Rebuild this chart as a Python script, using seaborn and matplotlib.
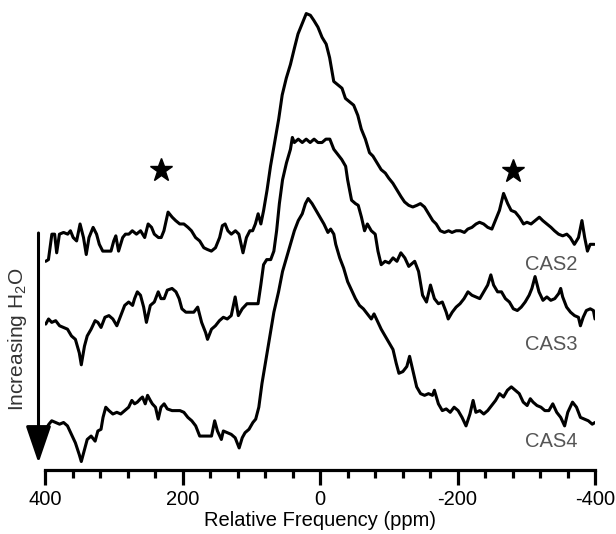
import numpy as np
import pandas as pd
import matplotlib
matplotlib.use("Agg")
import matplotlib.pyplot as plt
import seaborn as sns

# ---------------- data ----------------
cas2_ppm = [399, 395, 390, 386, 383, 379, 373, 367, 363, 359, 354, 349, 344, 340, 336, 330, 325, 321, 316, 310,
            304, 300, 297, 293, 287, 283, 278, 273, 267, 261, 255, 250, 245, 241, 235, 231, 227, 221, 215, 210,
            204, 198, 192, 187, 181, 175, 169, 164, 158, 152, 146, 142, 138, 134, 129, 123, 118, 112, 107, 102,
            98, 94, 90, 86, 82, 77, 72, 66, 60, 55, 49, 43, 37, 32, 26, 20, 14, 9, 3, -3,
            -9, -14, -20, -26, -32, -37, -43, -49, -55, -60, -66, -72, -77, -83, -89, -95, -100, -106, -112, -118,
            -123, -129, -135, -141, -146, -152, -158, -164, -169, -175, -181, -187, -192, -198, -204, -210, -215, -221, -227, -232,
            -238, -244, -250, -255, -261, -267, -273, -278, -284, -290, -296, -301, -307, -313, -319, -324, -330, -336, -341, -347,
            -353, -359, -364, -370, -376, -381, -385, -389, -393, -399]
cas2_int = [63.0, 63.5, 71.0, 71.0, 65.5, 71.0, 71.5, 71.0, 72.0, 70.0, 69.0, 74.0, 70.0, 65.0, 70.0, 73.0, 71.0, 68.0, 66.0, 66.0,
            66.0, 69.0, 70.5, 66.0, 70.0, 71.0, 71.0, 72.0, 71.0, 72.0, 70.0, 74.0, 73.0, 71.0, 70.0, 70.0, 72.0, 77.5, 76.0, 75.0,
            74.0, 74.0, 73.0, 72.0, 70.0, 69.0, 67.0, 66.5, 66.0, 67.0, 70.0, 73.5, 74.0, 72.0, 71.0, 72.0, 71.0, 65.5, 70.0, 72.0,
            72.0, 74.0, 77.0, 74.0, 78.0, 84.0, 91.0, 98.0, 105.0, 112.0, 117.0, 121.0, 126.0, 130.0, 133.0, 136.0, 135.5, 134.0, 132.0, 129.0,
            127.0, 123.0, 116.0, 115.0, 114.0, 111.0, 110.0, 109.0, 106.0, 102.0, 99.0, 95.0, 94.0, 92.0, 90.0, 89.0, 87.5, 86.0, 84.0, 82.0,
            80.5, 79.5, 79.0, 79.5, 80.0, 79.0, 77.0, 75.0, 74.0, 72.0, 71.5, 72.0, 71.5, 72.0, 72.0, 71.5, 72.5, 73.0, 74.0, 74.5,
            74.0, 73.0, 72.5, 75.0, 78.0, 83.0, 80.0, 78.0, 77.5, 76.0, 74.0, 74.5, 74.0, 75.0, 76.0, 75.0, 74.0, 73.0, 72.0, 71.0,
            70.5, 71.0, 70.0, 68.0, 70.0, 75.0, 70.0, 66.0, 68.0, 68.0]

cas3_ppm = [398.9, 394.8, 390.2, 384.5, 378.8, 373.0, 367.3, 361.5, 355.8, 350.1, 347.2, 342.6, 338.6, 332.9, 327.1, 323.1, 318.5, 312.8, 307.0, 301.3,
            295.5, 289.8, 284.1, 278.3, 272.6, 269.7, 265.7, 261.1, 256.5, 252.5, 246.8, 241.0, 235.3, 231.3, 226.7, 222.1, 215.2, 209.5, 204.9, 200.9,
            195.1, 189.4, 183.6, 177.9, 172.2, 166.4, 163.6, 157.8, 152.1, 146.3, 140.6, 134.9, 129.1, 123.4, 118.8, 113.1, 106.2, 100.4, 94.7, 90.1,
            86.1, 82.1, 77.5, 71.7, 67.1, 63.1, 59.1, 54.5, 48.8, 43.0, 40.2, 37.3, 31.6, 25.8, 20.1, 14.3, 8.6, 2.9, -2.9, -8.6,
            -14.3, -20.1, -25.8, -31.6, -37.3, -40.2, -45.9, -51.6, -55.6, -60.3, -64.8, -68.9, -74.6, -80.3, -84.3, -89.0, -94.7, -100.4, -106.2, -111.9,
            -117.6, -123.4, -129.1, -134.9, -137.7, -143.4, -149.2, -154.9, -160.7, -166.4, -172.2, -177.9, -183.6, -186.5, -192.3, -198.0, -203.7, -209.5, -215.2, -221.0,
            -226.7, -232.4, -238.2, -243.9, -248.5, -252.5, -258.3, -264.0, -269.7, -275.5, -281.2, -287.0, -292.7, -298.4, -304.2, -308.2, -312.8, -318.5, -324.3, -330.0,
            -335.7, -341.5, -347.2, -350.1, -353.0, -358.7, -364.4, -370.2, -375.9, -378.8, -382.8, -387.4, -393.1, -397.7, -400.0]
cas3_int = [44.5, 46.0, 45.0, 45.5, 44.0, 43.5, 43.0, 41.0, 40.0, 36.0, 32.5, 38.0, 41.0, 43.0, 45.5, 45.0, 43.5, 46.5, 47.0, 46.0,
            44.0, 47.0, 50.0, 51.0, 50.0, 52.0, 54.0, 53.0, 49.5, 45.0, 50.0, 51.0, 54.0, 52.0, 52.0, 54.5, 55.0, 54.0, 52.0, 49.0,
            48.0, 48.0, 48.0, 49.5, 45.0, 42.0, 40.0, 43.0, 44.0, 45.5, 46.5, 46.0, 47.0, 52.5, 47.0, 49.0, 50.5, 50.5, 50.5, 50.5,
            56.0, 62.0, 63.5, 63.5, 66.0, 72.0, 80.0, 87.0, 92.0, 96.0, 99.5, 98.0, 99.0, 98.0, 99.0, 98.0, 99.0, 98.0, 98.0, 99.0,
            99.0, 96.0, 94.5, 93.0, 91.0, 87.0, 81.0, 80.0, 79.5, 76.0, 72.0, 74.0, 72.0, 71.0, 66.0, 62.0, 63.0, 62.5, 64.0, 63.0,
            65.5, 64.0, 61.5, 62.5, 63.0, 60.0, 53.0, 51.0, 56.0, 52.0, 50.5, 51.0, 48.0, 46.0, 48.0, 49.5, 50.5, 52.0, 54.0, 53.0,
            52.5, 52.0, 54.0, 56.0, 59.0, 56.0, 54.0, 54.0, 52.0, 51.0, 49.0, 48.5, 49.5, 51.0, 53.0, 55.0, 58.5, 54.0, 51.5, 52.5,
            51.5, 52.0, 53.5, 55.0, 52.5, 49.5, 48.0, 47.0, 46.5, 44.0, 46.5, 48.5, 49.0, 48.5, 46.0]

cas4_ppm = [398.9, 394.3, 390.2, 384.5, 378.8, 373.0, 367.3, 361.5, 355.8, 350.1, 347.2, 342.6, 338.6, 332.9, 327.1, 323.1, 318.5, 315.6, 311.6, 307.0,
            301.3, 295.5, 289.8, 284.1, 278.3, 273.7, 269.7, 265.7, 261.1, 258.2, 254.2, 250.8, 246.8, 243.9, 239.3, 235.3, 231.3, 226.7, 222.1, 215.2,
            209.5, 203.7, 198.0, 192.2, 186.5, 180.8, 175.0, 169.3, 163.6, 157.8, 153.2, 149.2, 143.5, 140.6, 134.9, 129.1, 123.4, 117.6, 113.1, 109.0,
            103.3, 97.6, 93.5, 89.0, 84.4, 78.6, 72.9, 67.1, 60.3, 54.5, 48.8, 43.0, 37.3, 31.6, 25.8, 21.2, 17.2, 11.5, 5.7, 0.0,
            -5.7, -11.5, -15.5, -20.1, -22.9, -28.7, -34.4, -40.2, -45.9, -51.6, -57.4, -63.1, -68.9, -74.6, -78.6, -83.2, -89.0, -94.7, -100.4, -106.2,
            -110.8, -114.8, -120.5, -126.3, -130.3, -134.9, -140.6, -146.3, -152.1, -157.8, -163.6, -166.4, -172.2, -177.9, -183.6, -189.4, -195.1, -200.9, -206.6, -212.4,
            -218.1, -222.7, -226.7, -232.4, -238.2, -243.9, -249.6, -255.4, -261.1, -266.9, -272.6, -278.3, -284.1, -289.8, -295.6, -301.3, -305.9, -309.9, -315.6, -321.4,
            -327.1, -332.9, -338.6, -344.3, -350.1, -355.8, -360.4, -367.3, -373.1, -378.8, -384.5, -390.3, -396.0, -400.0]
cas4_int = [13.5, 15.0, 16.0, 15.5, 15.0, 15.5, 14.5, 12.0, 9.5, 6.0, 4.0, 7.5, 10.5, 11.5, 10.0, 13.0, 13.5, 17.0, 20.0, 19.0,
            18.0, 18.5, 18.0, 19.0, 20.0, 22.0, 21.0, 21.5, 22.5, 23.0, 21.0, 23.5, 22.0, 21.0, 20.0, 16.5, 20.0, 21.0, 19.5, 19.0,
            19.0, 19.0, 18.5, 17.0, 16.0, 14.5, 11.5, 11.5, 11.5, 11.5, 16.0, 13.0, 10.5, 13.0, 12.5, 12.0, 11.0, 8.0, 11.0, 12.5,
            13.5, 15.5, 16.5, 20.0, 27.0, 34.0, 41.0, 48.0, 54.0, 60.0, 64.0, 68.0, 72.0, 75.0, 77.0, 80.0, 81.5, 80.0, 78.0, 76.0,
            74.0, 71.5, 72.5, 71.0, 68.0, 64.0, 61.0, 57.0, 54.5, 52.0, 50.0, 49.0, 47.5, 46.0, 47.5, 45.5, 43.0, 41.0, 39.0, 37.0,
            33.0, 30.0, 30.5, 32.0, 35.0, 31.0, 26.0, 24.0, 23.5, 24.0, 23.5, 25.0, 21.0, 19.0, 19.5, 18.5, 20.0, 19.0, 17.0, 14.5,
            18.0, 22.0, 18.5, 19.0, 18.0, 19.0, 20.5, 22.0, 24.0, 23.0, 25.0, 26.0, 25.0, 24.0, 21.5, 20.5, 22.5, 21.5, 20.5, 20.0,
            19.0, 19.0, 21.0, 18.5, 17.0, 14.5, 18.5, 21.5, 20.0, 17.0, 16.5, 16.0, 15.0, 15.5]

sample_names = ["CAS2", "CAS3", "CAS4"]
label_ppm = -336
label_int = [62.2, 38.5, 10.0]
star_ppm = [232, -281]
star_int = [90, 89.5]
tick_major = [400, 200, 0, -200, -400]
tick_minor = [360, 320, 280, 240, 160, 120, 80, 40, -40, -80, -120, -160, -240, -280, -320, -360]

# ---------------- plotting ----------------
sns.set_theme(style="white")
plt.rcParams["font.family"] = ["Liberation Sans", "DejaVu Sans"]
plt.rcParams["mathtext.default"] = "regular"

df = pd.concat([
    pd.DataFrame({"ppm": cas2_ppm, "intensity": cas2_int, "sample": "CAS2"}),
    pd.DataFrame({"ppm": cas3_ppm, "intensity": cas3_int, "sample": "CAS3"}),
    pd.DataFrame({"ppm": cas4_ppm, "intensity": cas4_int, "sample": "CAS4"}),
])

fig = plt.figure(figsize=(6.16, 5.34), dpi=100)
ax = fig.add_axes([45 / 616, 64 / 534, 550 / 616, 470 / 534])

sns.lineplot(data=df, x="ppm", y="intensity", units="sample", estimator=None,
             color="black", linewidth=2.2, ax=ax, legend=False)

ax.plot(star_ppm, star_int, linestyle="none", marker="*", markersize=17, color="black")

for name, yv in zip(sample_names, label_int):
    ax.text(label_ppm, yv, name, ha="center", va="center", fontsize=14.5, color="#555555")

ax.set_xlim(400, -400)
ax.set_ylim(1.5, 140)
ax.set_xticks(tick_major)
ax.set_xticklabels([str(t) for t in tick_major])
ax.set_xticks(tick_minor, minor=True)
ax.set_yticks([])
for s in ["left", "top", "right"]:
    ax.spines[s].set_visible(False)
ax.spines["bottom"].set_linewidth(2.3)
ax.spines["bottom"].set_color("black")
ax.tick_params(axis="x", which="major", direction="out", length=10.5, width=2.3,
               colors="black", labelsize=14.5, pad=4, bottom=True)
ax.tick_params(axis="x", which="minor", direction="out", length=5.5, width=2.3,
               color="black", bottom=True)
ax.set_xlabel("Relative Frequency (ppm)", fontsize=14.5, color="black", labelpad=1)
ax.set_ylabel("")

# Increasing H2O arrow
ax.annotate("", xy=(38.5 / 616, 1 - 463 / 534), xytext=(38.5 / 616, 1 - 233 / 534),
            xycoords="figure fraction", textcoords="figure fraction",
            arrowprops=dict(arrowstyle="-|>,head_length=1.9,head_width=0.65",
                            color="black", lw=2.2, shrinkA=0, shrinkB=0))
fig.text(18 / 616, 1 - 339 / 534, "Increasing H$_2$O", rotation=90,
         ha="center", va="center", fontsize=15, color="#333333")

fig.savefig("out.png", dpi=100)
